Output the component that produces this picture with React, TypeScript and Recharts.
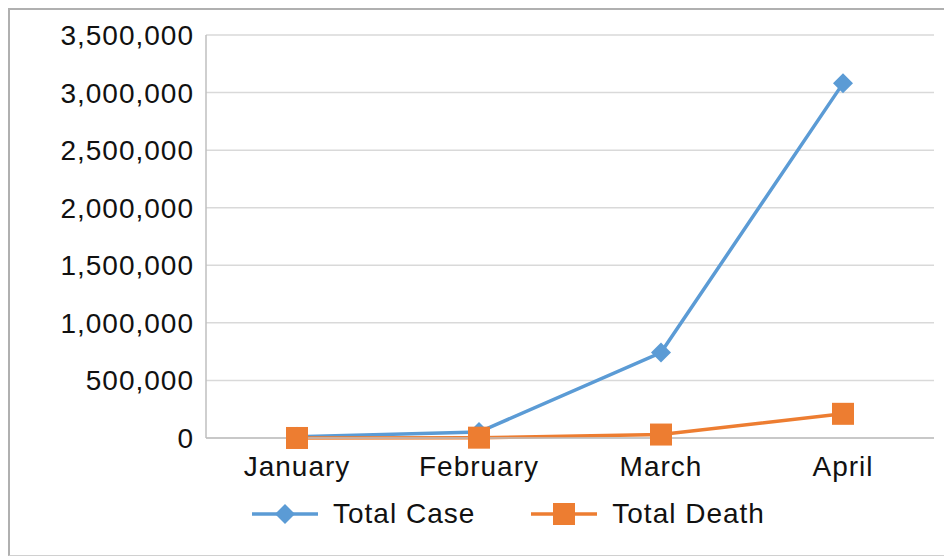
import { LineChart, Line, XAxis, YAxis, CartesianGrid, Legend } from 'recharts';

const months = ['January', 'February', 'March', 'April'];
const totalCase = [9800, 52000, 742000, 3080000];
const totalDeath = [210, 2900, 30000, 210000];
const yTicks = [0, 500000, 1000000, 1500000, 2000000, 2500000, 3000000, 3500000];

const data = months.map((m, i) => ({ month: m, totalCase: totalCase[i], totalDeath: totalDeath[i] }));

const BLUE = '#5b9bd5';
const ORANGE = '#ed7d31';
const FONT = '"Liberation Sans", Arial, sans-serif';

const Diamond = (props: any) => {
  const { cx, cy } = props;
  if (cx == null || cy == null) return null;
  const r = 10;
  return <path d={`M${cx},${cy - r}L${cx + r},${cy}L${cx},${cy + r}L${cx - r},${cy}Z`} fill={BLUE} />;
};

const Square = (props: any) => {
  const { cx, cy } = props;
  if (cx == null || cy == null) return null;
  const s = 11;
  return <rect x={cx - s} y={cy - s} width={s * 2} height={s * 2} fill={ORANGE} />;
};

function LegendBox() {
  const item = (label: string, color: string, marker: 'd' | 's') => (
    <div style={{ display: 'flex', alignItems: 'center' }}>
      <svg width={66} height={26}>
        <line x1={0} y1={13} x2={66} y2={13} stroke={color} strokeWidth={3.5} />
        {marker === 'd' ? (
          <path d="M33,3L43,13L33,23L23,13Z" fill={color} />
        ) : (
          <rect x={22} y={2} width={22} height={22} fill={color} />
        )}
      </svg>
      <span style={{ marginLeft: 15, fontSize: 28, letterSpacing: 1, color: '#111' }}>{label}</span>
    </div>
  );
  return (
    <div style={{ display: 'flex', alignItems: 'center', paddingLeft: 242, gap: 56, fontFamily: FONT }}>
      {item('Total Case', BLUE, 'd')}
      {item('Total Death', ORANGE, 's')}
    </div>
  );
}

export default function App() {
  return (
    <div style={{ width: 944, height: 548, borderTop: '2px solid #b0b0b0', borderLeft: '2px solid #b0b0b0', borderBottom: '1px solid #d0d0d0', boxSizing: 'border-box', background: '#fff' }}>
      <LineChart width={942} height={545} data={data} margin={{ top: 25, right: 18, bottom: 17, left: 0 }} style={{ fontFamily: FONT }}>
        <CartesianGrid vertical={false} stroke="#d9d9d9" strokeWidth={1.5} />
        <XAxis
          dataKey="month"
          height={60}
          padding={{ left: 91, right: 91 }}
          tickLine={false}
          tickMargin={12}
          axisLine={{ stroke: '#bfbfbf', strokeWidth: 1.5 }}
          tick={{ fontSize: 28, fill: '#111', letterSpacing: 1 }}
        />
        <YAxis
          width={196}
          domain={[0, 3500000]}
          ticks={yTicks}
          interval={0}
          tickLine={false}
          tickMargin={6}
          axisLine={{ stroke: '#bfbfbf', strokeWidth: 1.5 }}
          tick={{ fontSize: 28, fill: '#111', letterSpacing: 1 }}
          tickFormatter={(v: number) => v.toLocaleString('en-US')}
        />
        <Legend verticalAlign="bottom" height={40} wrapperStyle={{ left: 0, width: 942 }} content={() => <LegendBox />} />
        <Line dataKey="totalCase" name="Total Case" stroke={BLUE} strokeWidth={3.5} dot={<Diamond />} activeDot={false} isAnimationActive={false} />
        <Line dataKey="totalDeath" name="Total Death" stroke={ORANGE} strokeWidth={3.5} dot={<Square />} activeDot={false} isAnimationActive={false} />
      </LineChart>
    </div>
  );
}
